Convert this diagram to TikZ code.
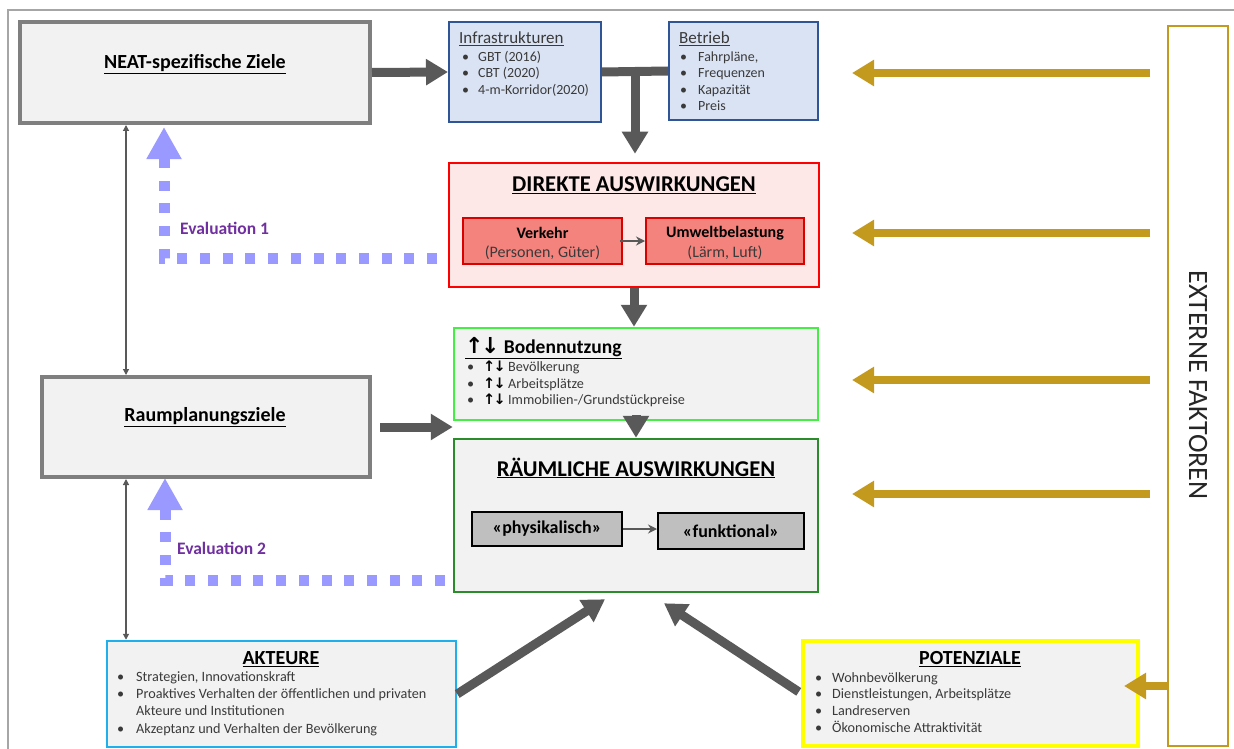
\documentclass[tikz,border=0pt]{standalone}
\usepackage{fontspec}
\setmainfont{Carlito}
\newfontfamily\symfont{DejaVu Sans}
\usetikzlibrary{arrows.meta,calc}
\definecolor{boxgray}{HTML}{F2F2F2}
\definecolor{bordergray}{HTML}{7F7F7F}
\definecolor{arrowgray}{HTML}{595959}
\definecolor{infrafill}{HTML}{DAE3F3}
\definecolor{infraborder}{HTML}{2F5597}
\definecolor{redfill}{HTML}{FDE7E7}
\definecolor{salmon}{HTML}{F4837D}
\definecolor{lightgreen}{HTML}{44EE44}
\definecolor{darkgreen}{HTML}{2A8C2A}
\definecolor{cyanb}{HTML}{1FB0EC}
\definecolor{yellowb}{HTML}{FFFF00}
\definecolor{goldc}{HTML}{C49A1E}
\definecolor{evalblue}{HTML}{9999FF}
\definecolor{evalpurple}{HTML}{7030A0}
\definecolor{textgray}{HTML}{3A3A3A}
\definecolor{framegray}{HTML}{A6A6A6}
\definecolor{physfill}{HTML}{BFBFBF}
\newcommand{\ud}{{\symfont\bfseries ↑\kern-0.12em↓}}
\begin{document}
\begin{tikzpicture}[x=1pt,y=-1pt,
  box/.style={draw, inner sep=0pt, anchor=center},
  graybox/.style={box, draw=bordergray, fill=boxgray, line width=4pt},
  bluebox/.style={box, draw=infraborder, fill=infrafill, line width=2pt},
  title/.style={inner sep=0pt, font=\fontsize{20}{23}\selectfont\bfseries},
  bigtitle/.style={inner sep=0pt, font=\fontsize{22.6}{25}\selectfont\bfseries},
  item/.style={anchor=base west, inner sep=0pt, font=\fontsize{14}{16}\selectfont, text=textgray},
  bitem/.style={anchor=base west, inner sep=0pt, font=\fontsize{14.2}{17}\selectfont, text=textgray},
  bigarrow/.style={draw=arrowgray, line width=9pt, -{Triangle[width=25pt,length=22pt]}},
  goldarrow/.style={draw=goldc, line width=8pt, -{Triangle[width=25pt,length=22pt]}},
  thinarrow/.style={draw=arrowgray, line width=1.2pt, {Triangle[width=6pt,length=6pt]}-{Triangle[width=6pt,length=6pt]}},
  evaldash/.style={draw=evalblue, line width=11pt, dash pattern=on 10pt off 12.7pt},
  evaltip/.style={draw=evalblue, line width=11pt, -{Triangle[width=33pt,length=32pt]}},
  evaltext/.style={anchor=west, inner sep=0pt, text=evalpurple, font=\fontsize{17.5}{20}\selectfont\bfseries}
]
\useasboundingbox (0,0) rectangle (1234,749);
\fill[white] (0,0) rectangle (1234,749);
\draw[framegray, line width=1.5pt] (8,749) -- (8,10) -- (1234,10);

% --- boxes
\node[graybox, minimum width=350pt, minimum height=101pt] (neat) at (195,72.5) {};
\node[title] (neatt) at (195,64) {\underline{NEAT-spezifische Ziele}};

\node[bluebox, minimum width=152pt, minimum height=100pt] (infra) at (525,72) {};
\node[anchor=base west, inner sep=0pt, font=\fontsize{17}{19}\selectfont, text=textgray] (infrat) at (459,43.5) {\underline{Infrastrukturen}};
\foreach \t [count=\i] in {GBT (2016), CBT (2020), 4-m-Korridor(2020)}
  \node[item] (inf\i) at (462,{45+16.5*\i}) {\makebox[16pt][l]{\textbullet}\t};

\node[bluebox, minimum width=149pt, minimum height=98pt] (betrieb) at (743.5,71) {};
\node[anchor=base west, inner sep=0pt, font=\fontsize{17}{19}\selectfont, text=textgray] (betriebt) at (679,43.5) {\underline{Betrieb}};
\foreach \t [count=\i] in {{Fahrpläne,}, Frequenzen, Kapazität, Preis}
  \node[item] (bet\i) at (680,{45+16.5*\i}) {\makebox[18pt][l]{\textbullet}\t};

\node[box, draw=red, fill=redfill, line width=2.5pt, minimum width=370pt, minimum height=124pt] (dir) at (634,225) {};
\node[bigtitle] (dirt) at (634,185) {\underline{DIREKTE AUSWIRKUNGEN}};
\node[box, draw=red!85!black, fill=salmon, line width=2pt, minimum width=159pt, minimum height=46pt] (verk) at (542.5,241) {};
\node[inner sep=0pt, font=\fontsize{16}{18}\selectfont\bfseries] (verkt1) at (542.5,233) {Verkehr};
\node[inner sep=0pt, font=\fontsize{16}{18}\selectfont, text=textgray] (verkt2) at (542.5,253) {(Personen, Güter)};
\node[box, draw=red!85!black, fill=salmon, line width=2pt, minimum width=158pt, minimum height=46pt] (umw) at (725,241) {};
\node[inner sep=0pt, font=\fontsize{16}{18}\selectfont\bfseries] (umwt1) at (725,233) {Umweltbelastung};
\node[inner sep=0pt, font=\fontsize{16}{18}\selectfont, text=textgray] (umwt2) at (725,253) {(Lärm, Luft)};
\draw[draw=arrowgray, line width=2pt, -{Stealth[length=9pt,width=9pt]}] ([xshift=-3pt]verk.east) -- (umw.west);

\node[box, draw=lightgreen, fill=boxgray, line width=2.5pt, minimum width=364pt, minimum height=92pt] (bod) at (636,374) {};
\node[anchor=base west, inner sep=0pt, font=\fontsize{19.5}{22}\selectfont\bfseries] (bodt) at (465,353) {\underline{{\fontsize{22}{22}\selectfont\ud}\ Bodennutzung}};
\foreach \t [count=\i] in {Bevölkerung, Arbeitsplätze, Immobilien-/Grundstückpreise}
  \node[bitem] (bodi\i) at (467,{355+16.5*\i}) {\makebox[16pt][l]{\textbullet}{\fontsize{14.5}{14}\selectfont\color{black}\ud}\,\t};

\node[box, draw=darkgreen, fill=boxgray, line width=2.5pt, minimum width=364pt, minimum height=153pt] (rau) at (636,515.5) {};
\node[bigtitle] (raut) at (636,468) {\underline{RÄUMLICHE AUSWIRKUNGEN}};
\node[box, draw=black, fill=physfill, line width=2pt, minimum width=150pt, minimum height=34pt, font=\fontsize{18}{20}\selectfont\bfseries] (phys) at (547,529) {«physikalisch»};
\node[box, draw=black, fill=physfill, line width=2pt, minimum width=146pt, minimum height=36pt, font=\fontsize{18}{20}\selectfont\bfseries] (funk) at (731,531) {«funktional»};
\draw[draw=arrowgray, line width=2pt, -{Stealth[length=9pt,width=9pt]}] (phys.east) -- (phys.east -| funk.west);

\node[graybox, minimum width=328pt, minimum height=100pt] (raum) at (206,427) {};
\node[title] (raumt) at (205,417) {\underline{Raumplanungsziele}};

\node[box, draw=cyanb, fill=boxgray, line width=2.5pt, minimum width=349pt, minimum height=106pt] (akt) at (281.5,694) {};
\node[title] (aktt) at (281,659) {\underline{AKTEURE}};
\node[bitem] (akt1) at (117,681.5) {\makebox[19pt][l]{\textbullet}Strategien, Innovationskraft};
\node[bitem] (akt2) at (117,698.5) {\makebox[19pt][l]{\textbullet}Proaktives Verhalten der öffentlichen und privaten};
\node[bitem] (akt3) at (117,715.5) {\makebox[19pt][l]{}Akteure und Institutionen};
\node[bitem] (akt4) at (117,733.5) {\makebox[19pt][l]{\textbullet}Akzeptanz und Verhalten der Bevölkerung};

\node[box, draw=yellowb, fill=boxgray, line width=3.5pt, minimum width=335pt, minimum height=105pt] (pot) at (970.5,693.5) {};
\node[title] (pott) at (970,659) {\underline{POTENZIALE}};
\foreach \t [count=\i] in {Wohnbevölkerung, {Dienstleistungen, Arbeitsplätze}, Landreserven, Ökonomische Attraktivität}
  \node[bitem] (poti\i) at (815,{665.5+16.7*\i}) {\makebox[17pt][l]{\textbullet}\t};

\node[box, draw=goldc, fill=white, line width=2pt, minimum width=60pt, minimum height=720pt] (ext) at (1198,386) {};
\node[rotate=-90, inner sep=0pt, font=\fontsize{28}{30}\selectfont, text=black!85] (extt) at (1198,385) {EXTERNE FAKTOREN};

% --- gray connectors
\draw[bigarrow] (neat.east) -- (infra.west);
\coordinate (tj) at ($(infra.east)!0.5!(betrieb.west)$);
\draw[draw=arrowgray, line width=9pt] (infra.east) -- (betrieb.west);
\draw[bigarrow, shorten >=8pt] (tj) -- (tj |- dir.north);
\draw[bigarrow] (dir.south) -- (dir.south |- bod.north);
\draw[bigarrow] ([yshift=6pt]bod.south) -- (rau.north);
\draw[bigarrow, shorten <=8pt] (raum.east) -- (raum.east -| rau.west);
\coordinate (rauL) at ($(rau.south)+(-31,6)$);
\coordinate (rauR) at ($(rau.south)+(28,10)$);
\draw[bigarrow] (akt.east) -- (rauL);
\draw[bigarrow, shorten <=3pt] (pot.west) -- (rauR);

% --- thin double arrows
\draw[thinarrow] (126,0 |- neat.south) -- (126,0 |- raum.north);
\draw[thinarrow] (126,0 |- raum.south) -- (126,0 |- akt.north);

% --- external factors arrows
\foreach \yy [count=\i] in {73,233,380,494} {
  \coordinate (gs\i) at (1150,\yy);
  \coordinate (ge\i) at (852,\yy);
  \draw[goldarrow] (gs\i) -- (ge\i);
}
\coordinate (gp) at (1124,686);
\draw[goldarrow] (ext.west |- gp) -- (gp);

% --- evaluation loops
\coordinate (e1s) at (437,258);
\coordinate (e1c) at (164,258);
\coordinate (e1b) at (164,160);
\coordinate (e1t) at (164,127);
\draw[evaldash] (e1s) -- (e1c) -- (e1b);
\draw[evaltip] (e1b) -- (e1t);
\node[evaltext] (ev1) at (180,228) {Evaluation 1};

\coordinate (e2s) at (445,580);
\coordinate (e2c) at (165,580);
\coordinate (e2b) at (165,513);
\coordinate (e2t) at (165,478);
\draw[evaldash] (e2s) -- (e2c) -- (e2b);
\draw[evaltip] (e2b) -- (e2t);
\node[evaltext] (ev2) at (177,548) {Evaluation 2};
\end{tikzpicture}
\end{document}
